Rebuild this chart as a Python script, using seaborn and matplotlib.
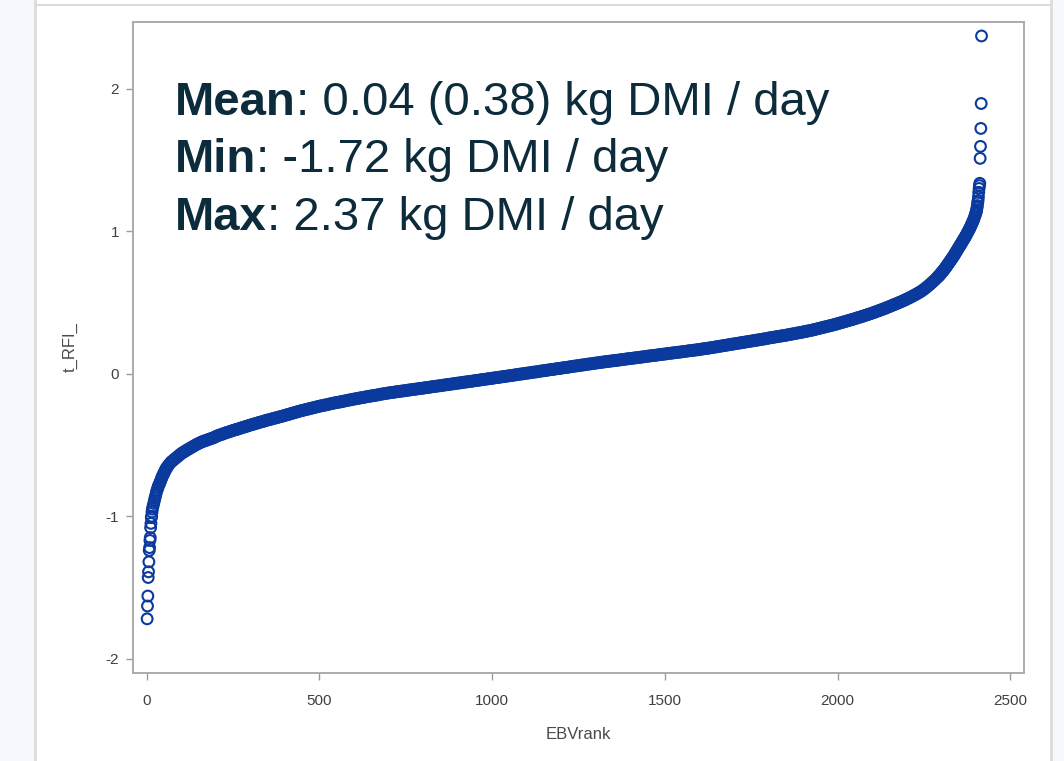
import matplotlib
matplotlib.use("Agg")
import matplotlib.pyplot as plt
from matplotlib.patches import Rectangle
from matplotlib.lines import Line2D
import seaborn as sns
import pandas as pd

# --- data: transformed RFI values ordered by EBV rank ---------------------
low_tail_ranks = list(range(1, 16))
low_tail_values = [-1.72, -1.63, -1.56, -1.43, -1.39, -1.32, -1.24, -1.22,
                   -1.17, -1.15, -1.08, -1.05, -1.01, -1.00, -0.97]

early_ranks = list(range(16, 61, 2))
early_values = [-0.95, -0.93, -0.91, -0.89, -0.87, -0.85, -0.83, -0.815,
                -0.80, -0.785, -0.775, -0.765, -0.75, -0.74, -0.725, -0.715,
                -0.705, -0.695, -0.685, -0.675, -0.665, -0.66, -0.65]

shoulder_ranks = list(range(65, 200, 5))
shoulder_values = [-0.635, -0.62, -0.61, -0.60, -0.59, -0.58, -0.57, -0.56,
                   -0.552, -0.545, -0.537, -0.53, -0.523, -0.516, -0.509,
                   -0.502, -0.495, -0.489, -0.483, -0.478, -0.473, -0.469,
                   -0.465, -0.46, -0.456, -0.452, -0.448]

body_ranks = list(range(200, 2291, 5))
body_values = [
    -0.440, -0.435, -0.431, -0.427, -0.423, -0.418, -0.414, -0.410, -0.406, -0.402,
    -0.398, -0.394, -0.391, -0.387, -0.383, -0.379, -0.375, -0.372, -0.368, -0.364,
    -0.360, -0.357, -0.353, -0.350, -0.346, -0.342, -0.339, -0.336, -0.332, -0.328,
    -0.325, -0.322, -0.319, -0.315, -0.312, -0.309, -0.306, -0.302, -0.299, -0.296,
    -0.292, -0.289, -0.285, -0.282, -0.278, -0.275, -0.271, -0.268, -0.264, -0.261,
    -0.258, -0.255, -0.252, -0.249, -0.246, -0.243, -0.240, -0.237, -0.234, -0.231,
    -0.228, -0.225, -0.223, -0.220, -0.218, -0.215, -0.212, -0.210, -0.207, -0.204,
    -0.202, -0.200, -0.198, -0.195, -0.193, -0.190, -0.188, -0.185, -0.183, -0.180,
    -0.178, -0.176, -0.174, -0.171, -0.169, -0.167, -0.165, -0.162, -0.160, -0.158,
    -0.156, -0.154, -0.152, -0.150, -0.148, -0.145, -0.143, -0.141, -0.139, -0.137,
    -0.135, -0.133, -0.132, -0.130, -0.128, -0.126, -0.125, -0.123, -0.121, -0.120,
    -0.118, -0.116, -0.114, -0.113, -0.111, -0.109, -0.108, -0.106, -0.104, -0.103,
    -0.101, -0.099, -0.097, -0.096, -0.094, -0.092, -0.090, -0.089, -0.087, -0.085,
    -0.084, -0.082, -0.080, -0.078, -0.077, -0.075, -0.073, -0.072, -0.070, -0.068,
    -0.066, -0.065, -0.063, -0.061, -0.059, -0.058, -0.056, -0.054, -0.053, -0.051,
    -0.049, -0.047, -0.046, -0.044, -0.042, -0.040, -0.039, -0.037, -0.035, -0.034,
    -0.032, -0.030, -0.028, -0.027, -0.025, -0.023, -0.021, -0.020, -0.018, -0.016,
    -0.014, -0.013, -0.011, -0.009, -0.007, -0.005, -0.003, -0.002, 0.000, 0.002,
    0.004, 0.005, 0.007, 0.009, 0.011, 0.012, 0.014, 0.016, 0.018, 0.020,
    0.021, 0.023, 0.025, 0.027, 0.029, 0.030, 0.032, 0.034, 0.036, 0.037,
    0.039, 0.041, 0.043, 0.044, 0.046, 0.048, 0.050, 0.052, 0.054, 0.055,
    0.057, 0.059, 0.061, 0.062, 0.064, 0.066, 0.068, 0.069, 0.071, 0.073,
    0.075, 0.076, 0.078, 0.080, 0.081, 0.083, 0.085, 0.086, 0.088, 0.089,
    0.091, 0.092, 0.094, 0.095, 0.097, 0.099, 0.100, 0.102, 0.104, 0.105,
    0.107, 0.108, 0.110, 0.111, 0.113, 0.114, 0.116, 0.118, 0.119, 0.121,
    0.123, 0.124, 0.126, 0.127, 0.129, 0.130, 0.132, 0.134, 0.135, 0.137,
    0.138, 0.140, 0.142, 0.143, 0.145, 0.146, 0.148, 0.149, 0.151, 0.152,
    0.154, 0.156, 0.157, 0.159, 0.161, 0.162, 0.164, 0.165, 0.167, 0.168,
    0.170, 0.172, 0.174, 0.176, 0.177, 0.179, 0.181, 0.183, 0.185, 0.187,
    0.189, 0.191, 0.193, 0.195, 0.197, 0.199, 0.201, 0.203, 0.205, 0.207,
    0.209, 0.211, 0.213, 0.215, 0.217, 0.219, 0.221, 0.223, 0.225, 0.227,
    0.229, 0.231, 0.233, 0.235, 0.237, 0.239, 0.241, 0.243, 0.245, 0.247,
    0.250, 0.252, 0.254, 0.256, 0.258, 0.260, 0.262, 0.264, 0.266, 0.268,
    0.270, 0.272, 0.275, 0.277, 0.279, 0.281, 0.284, 0.286, 0.288, 0.290,
    0.293, 0.295, 0.298, 0.300, 0.303, 0.305, 0.308, 0.311, 0.314, 0.317,
    0.320, 0.323, 0.326, 0.329, 0.332, 0.335, 0.338, 0.341, 0.344, 0.347,
    0.351, 0.354, 0.358, 0.361, 0.365, 0.368, 0.372, 0.375, 0.379, 0.382,
    0.386, 0.390, 0.394, 0.397, 0.401, 0.405, 0.409, 0.413, 0.417, 0.421,
    0.425, 0.429, 0.434, 0.438, 0.443, 0.447, 0.452, 0.456, 0.461, 0.466,
    0.471, 0.476, 0.481, 0.486, 0.491, 0.496, 0.501, 0.506, 0.512, 0.517,
    0.523, 0.529, 0.535, 0.541, 0.548, 0.554, 0.561, 0.568, 0.575, 0.583,
    0.592, 0.601, 0.611, 0.621, 0.632, 0.643, 0.654, 0.666, 0.678,
]

upturn_ranks = list(range(2292, 2401, 2))
upturn_values = [
    0.683, 0.688, 0.694, 0.699, 0.705, 0.711, 0.717, 0.723, 0.729, 0.735,
    0.741, 0.748, 0.755, 0.762, 0.769, 0.776, 0.783, 0.790, 0.797, 0.804,
    0.811, 0.818, 0.825, 0.833, 0.841, 0.849, 0.857, 0.865, 0.873, 0.881,
    0.889, 0.897, 0.905, 0.913, 0.921, 0.929, 0.937, 0.945, 0.953, 0.961,
    0.969, 0.979, 0.988, 0.997, 1.006, 1.016, 1.025, 1.036, 1.047, 1.058,
    1.069, 1.080, 1.093, 1.108, 1.122,
]

high_tail_ranks = list(range(2401, 2418))
high_tail_values = [1.13, 1.14, 1.15, 1.165, 1.18, 1.20, 1.215, 1.24, 1.273,
                    1.30, 1.32, 1.336, 1.511, 1.595, 1.721, 1.896, 2.37]

x_ticks = [0, 500, 1000, 1500, 2000, 2500]
y_ticks = [-2, -1, 0, 1, 2]

summary_lines = [
    ("Mean", ": 0.04 (0.38) kg DMI / day"),
    ("Min", ": -1.72 kg DMI / day"),
    ("Max", ": 2.37 kg DMI / day"),
]

df = pd.DataFrame({
    "EBVrank": (low_tail_ranks + early_ranks + shoulder_ranks + body_ranks
                + upturn_ranks + high_tail_ranks),
    "t_RFI_": (low_tail_values + early_values + shoulder_values + body_values
               + upturn_values + high_tail_values),
})

# --- styling ---------------------------------------------------------------
sns.set_style("ticks")
plt.rcParams["font.family"] = ["Liberation Sans", "DejaVu Sans"]
plt.rcParams["axes.unicode_minus"] = False

BLUE = "#0b3a9e"
FRAME = "#ababab"
TICKTXT = "#404040"
NAVY = "#0c2b3b"

fig = plt.figure(figsize=(10.64, 7.61), dpi=100)
fig.patch.set_facecolor("white")

# page margins around the plot panel
fig.patches.append(Rectangle((0, 0), 34 / 1064, 1, transform=fig.transFigure,
                             facecolor="#f6f8fd", edgecolor="none", zorder=0))
fig.patches.append(Rectangle((1052 / 1064, 0), 12 / 1064, 1, transform=fig.transFigure,
                             facecolor="#f6f8fd", edgecolor="none", zorder=0))
fig.lines.append(Line2D([35 / 1064, 35 / 1064], [0, 1], transform=fig.transFigure,
                        color="#dcdcdc", lw=2))
fig.lines.append(Line2D([1051 / 1064, 1051 / 1064], [0, 1], transform=fig.transFigure,
                        color="#dcdcdc", lw=2))
fig.lines.append(Line2D([35 / 1064, 1051 / 1064], [1 - 4.5 / 761, 1 - 4.5 / 761],
                        transform=fig.transFigure, color="#dcdcdc", lw=1.5))

ax = fig.add_axes([133 / 1064, 1 - 673 / 761, (1024 - 133) / 1064, (673 - 21.7) / 761])

sns.scatterplot(data=df, x="EBVrank", y="t_RFI_", ax=ax, s=60,
                facecolor="none", edgecolor=BLUE, linewidth=1.5, legend=False)

ax.set_xlim(-40, 2540)
ax.set_ylim(-2.10, 2.47)
ax.set_xticks(x_ticks)
ax.set_yticks(y_ticks)

for side in ["left", "right", "top", "bottom"]:
    ax.spines[side].set_visible(True)
    ax.spines[side].set_color(FRAME)
    ax.spines[side].set_linewidth(1.4)

ax.tick_params(axis="both", direction="out", length=5, width=1, color="#9a9a9a",
               labelsize=11, labelcolor=TICKTXT)
ax.tick_params(axis="x", pad=10)
ax.tick_params(axis="y", pad=5)
ax.set_xlabel("EBVrank", fontsize=12, color="#4a4a4a", labelpad=14)
ax.set_ylabel("t_RFI_", fontsize=12, color="#4a4a4a", labelpad=20)

# summary statistics block: bold keyword followed by regular text
y0 = 0.857
for i, (key, rest) in enumerate(summary_lines):
    t = ax.text(42 / 891, y0 - i * 0.0885, key, transform=ax.transAxes,
                fontsize=34, fontweight="bold", color=NAVY, va="baseline", ha="left")
    ax.annotate(rest, xy=(1, 0), xycoords=t, fontsize=34, color=NAVY,
                va="bottom", ha="left")

fig.savefig("out.png", dpi=100, facecolor="white")
